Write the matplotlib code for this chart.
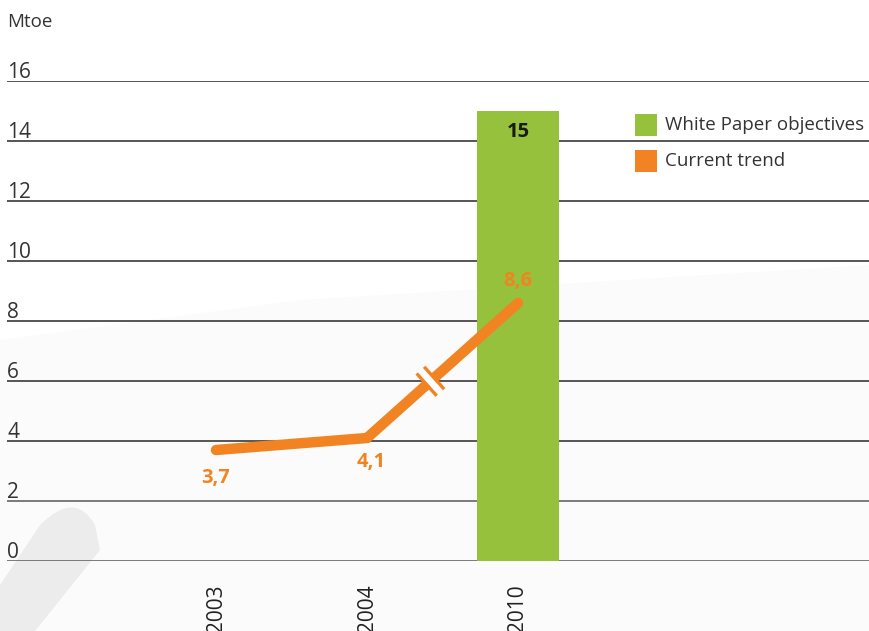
import matplotlib
matplotlib.use("Agg")
import matplotlib.pyplot as plt
import numpy as np
from matplotlib.patches import Polygon
from matplotlib.path import Path
from matplotlib.patches import PathPatch

plt.rcParams['font.family'] = ['Open Sans', 'DejaVu Sans']

# Data
years = ["2003", "2004", "2010"]
trend_values = [3.7, 4.1, 8.6]
trend_labels = ["3,7", "4,1", "8,6"]
objective_year = "2010"
objective_value = 15
objective_label = "15"
y_ticks = [0, 2, 4, 6, 8, 10, 12, 14, 16]

GREEN = "#95c13d"
ORANGE = "#f28322"
GRID = "#555555"

W, H = 869, 631
fig = plt.figure(figsize=(W / 100, H / 100), dpi=100)

# Decorative background swoosh
bg = fig.add_axes([0, 0, 1, 1], zorder=0)
bg.set_xlim(0, W)
bg.set_ylim(H, 0)
bg.axis("off")
bg.add_patch(Polygon([[0, 340], [300, 300], [869, 265], [869, 631], [0, 631]],
                     closed=True, facecolor="#fbfbfb", edgecolor="none"))
verts = [(95, 525), (75, 490), (40, 525), (0, 585), (0, 631), (35, 631),
         (80, 575), (100, 550), (95, 525)]
codes = [Path.MOVETO, Path.CURVE3, Path.CURVE3, Path.LINETO, Path.LINETO,
         Path.LINETO, Path.CURVE3, Path.CURVE3, Path.CLOSEPOLY]
bg.add_patch(PathPatch(Path(verts, codes), facecolor="#ececec", edgecolor="none"))

# Main axes: x positions 0,1,2 are spaced ~151 px, first category at x=216 px
x0_px, step_px = 216, 151
left_px, right_px = 7, 869
top_px, bottom_px = 81, 561
ax = fig.add_axes([left_px / W, (H - bottom_px) / H,
                   (right_px - left_px) / W, (bottom_px - top_px) / H], zorder=1)
ax.patch.set_alpha(0)
ax.set_xlim((left_px - x0_px) / step_px, (right_px - x0_px) / step_px)
ax.set_ylim(0, 16)
for s in ax.spines.values():
    s.set_visible(False)
ax.set_xticks([])
ax.set_yticks([])

# Horizontal grid lines with labels sitting on them
for v in y_ticks:
    ax.axhline(v, color=GRID if v >= 4 else "#7a7a7a", lw=1.4, zorder=1)
    ax.annotate(str(v), xy=(0, v), xycoords=("axes fraction", "data"),
                xytext=(0, -1.5), textcoords="offset points",
                ha="left", va="bottom", fontsize=15, color="#333333")

xpos = np.arange(len(years))
bar_x = years.index(objective_year)
ax.bar(bar_x, objective_value, width=0.545, color=GREEN, zorder=2)
ax.annotate(objective_label, xy=(bar_x, objective_value), xytext=(0, -15),
            textcoords="offset points", ha="center", va="center",
            fontsize=14.5, fontweight="bold", color="#1a1a1a", zorder=5)

ax.plot(xpos, trend_values, color=ORANGE, lw=7.5, solid_capstyle="round",
        solid_joinstyle="miter", zorder=3)

# Break marker on the 2004-2010 segment
t = 0.42
bx = xpos[1] + t * (xpos[2] - xpos[1])
by = trend_values[1] + t * (trend_values[2] - trend_values[1])
p1 = ax.transData.transform((xpos[1], trend_values[1]))
p2 = ax.transData.transform((xpos[2], trend_values[2]))
d = (p2 - p1) / np.linalg.norm(p2 - p1)
n = np.array([-d[1], d[0]])
c = ax.transData.transform((bx, by))
inv = ax.transData.inverted()
a = inv.transform(c - n * 11)
b = inv.transform(c + n * 11)
ax.plot([a[0], b[0]], [a[1], b[1]], color="white", lw=6, zorder=4,
        solid_capstyle="butt")
for off in (-5, 5):
    cc = c + d * off
    a = inv.transform(cc - n * 15)
    b = inv.transform(cc + n * 15)
    ax.plot([a[0], b[0]], [a[1], b[1]], color=ORANGE, lw=2.4, zorder=4,
            solid_capstyle="butt")

# Value labels for the trend
label_offsets = [(0, -20), (3, -17), (0, 16)]
for x, v, lab, off in zip(xpos, trend_values, trend_labels, label_offsets):
    ax.annotate(lab, xy=(x, v), xytext=off, textcoords="offset points",
                ha="center", va="center", fontsize=14.5, fontweight="bold",
                color=ORANGE, zorder=5)

# Rotated year labels below the axis
for x, yr in zip(xpos, years):
    ax.annotate(yr, xy=(x, 0), xytext=(0, -17), textcoords="offset points",
                ha="center", va="top", rotation=90, fontsize=15,
                color="#222222", annotation_clip=False)

# Unit label
fig.text(7 / W, 1 - 22 / H, "Mtoe", ha="left", va="center", fontsize=13.5,
         color="#333333")

# Legend
leg_items = [(GREEN, "White Paper objectives", 125), (ORANGE, "Current trend", 161)]
for col, txt, yc in leg_items:
    bg.add_patch(plt.Rectangle((635, yc - 11), 22, 22, facecolor=col,
                               edgecolor="none", zorder=5))
    fig.text(665 / W, 1 - yc / H, txt, ha="left", va="center", fontsize=13.5,
             color="#333333", zorder=6)

fig.savefig("out.png", dpi=100)
